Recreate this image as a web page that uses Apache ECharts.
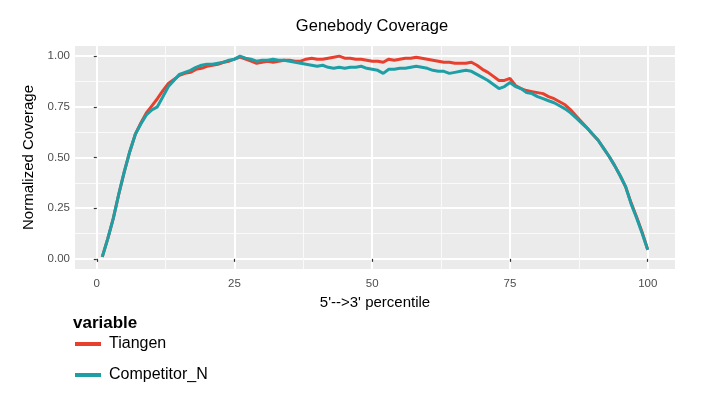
<!DOCTYPE html>
<html>
<head>
<meta charset="utf-8">
<script src="https://cdn.jsdelivr.net/npm/echarts@6/dist/echarts.min.js"></script>
<style>html,body{margin:0;padding:0;background:#fff}#c{width:707px;height:397px}</style>
</head>
<body>
<div id="c"></div>
<script>
var percentiles = [];
for (var i = 1; i <= 100; i++) percentiles.push(i);

var tiangen = [
0.01,0.10,0.20,0.32,0.43,0.53,0.615,0.67,0.72,0.755,
0.79,0.83,0.865,0.885,0.905,0.915,0.92,0.935,0.94,0.95,
0.955,0.96,0.97,0.975,0.985,0.995,0.985,0.975,0.965,0.97,
0.975,0.97,0.975,0.98,0.98,0.975,0.975,0.985,0.99,0.985,
0.985,0.99,0.995,1.0,0.99,0.99,0.985,0.985,0.98,0.975,
0.975,0.97,0.985,0.98,0.985,0.99,0.99,0.995,0.99,0.985,
0.98,0.975,0.97,0.97,0.965,0.965,0.965,0.97,0.955,0.935,
0.92,0.90,0.88,0.88,0.89,0.855,0.84,0.83,0.825,0.82,
0.815,0.80,0.79,0.775,0.76,0.735,0.705,0.675,0.645,0.615,
0.585,0.545,0.505,0.46,0.41,0.355,0.275,0.205,0.13,0.045
];

var competitorN = [
0.01,0.10,0.20,0.32,0.43,0.53,0.615,0.665,0.71,0.735,
0.75,0.80,0.85,0.88,0.91,0.92,0.93,0.945,0.955,0.96,
0.96,0.965,0.97,0.98,0.985,1.00,0.99,0.985,0.975,0.98,
0.98,0.985,0.98,0.98,0.975,0.97,0.965,0.96,0.955,0.95,
0.955,0.945,0.94,0.945,0.94,0.945,0.945,0.95,0.94,0.935,
0.93,0.915,0.935,0.935,0.94,0.94,0.945,0.95,0.945,0.94,
0.93,0.925,0.925,0.915,0.92,0.925,0.93,0.925,0.91,0.895,
0.88,0.86,0.84,0.85,0.87,0.85,0.84,0.82,0.815,0.80,
0.79,0.78,0.77,0.755,0.74,0.72,0.695,0.67,0.645,0.615,
0.585,0.545,0.505,0.46,0.41,0.355,0.27,0.20,0.125,0.045
];

var xMajorTicks = [0, 25, 50, 75, 100];
var xMinorTicks = [12.5, 37.5, 62.5, 87.5];
var yMajorTicks = [0, 0.25, 0.5, 0.75, 1.0];
var yMinorTicks = [0.125, 0.375, 0.625, 0.875];

function pairs(xs, ys) {
  return xs.map(function (x, i) { return [x, ys[i]]; });
}

var font = 'Liberation Sans, Arial, sans-serif';
var chart = echarts.init(document.getElementById('c'));
chart.setOption({
  animation: false,
  textStyle: { fontFamily: font },
  title: [
    { text: 'Genebody Coverage', left: 367, top: 13, textAlign: 'center',
      textStyle: { fontSize: 16.5, fontWeight: 'normal', color: '#000', fontFamily: font } },
    { text: 'variable', left: 68, top: 310,
      textStyle: { fontSize: 17, fontWeight: 'bold', color: '#000', fontFamily: font } }
  ],
  grid: { left: 75, right: 32, top: 46, bottom: 128, show: true,
    backgroundColor: '#EBEBEB', borderWidth: 0 },
  legend: {
    orient: 'vertical', left: 70, top: 331, icon: 'rect',
    itemWidth: 26, itemHeight: 4, itemGap: 15,
    textStyle: { fontSize: 16, color: '#000', fontFamily: font, padding: [0, 0, 0, 3] },
    data: ['Tiangen', 'Competitor_N']
  },
  xAxis: [
    { type: 'value', min: -3.95, max: 104.95,
      name: "5'-->3' percentile", nameLocation: 'middle', nameGap: 19,
      nameTextStyle: { fontSize: 15, color: '#000', fontFamily: font },
      axisLine: { show: false },
      axisTick: { show: true, length: 3, customValues: xMajorTicks, lineStyle: { color: '#333', width: 1.2 } },
      axisLabel: { customValues: xMajorTicks, margin: 9, fontSize: 11.5, color: '#4D4D4D', fontFamily: font },
      splitLine: { show: true, lineStyle: { color: '#FFFFFF', width: 2 } } },
    { type: 'value', min: -3.95, max: 104.95, position: 'bottom',
      axisLine: { show: false },
      axisTick: { show: false, customValues: xMinorTicks },
      axisLabel: { show: false, customValues: xMinorTicks },
      splitLine: { show: true, lineStyle: { color: '#FAFAFA', width: 1 } } }
  ],
  yAxis: [
    { type: 'value', min: -0.05, max: 1.05,
      name: 'Normalized Coverage', nameLocation: 'middle', nameGap: 36,
      nameTextStyle: { fontSize: 15, color: '#000', fontFamily: font },
      axisLine: { show: false },
      axisTick: { show: true, length: 3, customValues: yMajorTicks, lineStyle: { color: '#333', width: 1.2 } },
      axisLabel: { customValues: yMajorTicks, margin: 5, fontSize: 11.5, color: '#4D4D4D', fontFamily: font,
        formatter: function (v) { return v.toFixed(2); } },
      splitLine: { show: true, lineStyle: { color: '#FFFFFF', width: 2 } } },
    { type: 'value', min: -0.05, max: 1.05, position: 'left',
      axisLine: { show: false },
      axisTick: { show: false, customValues: yMinorTicks },
      axisLabel: { show: false, customValues: yMinorTicks },
      splitLine: { show: true, lineStyle: { color: '#FAFAFA', width: 1 } } }
  ],
  series: [
    { name: 'Tiangen', type: 'line', data: pairs(percentiles, tiangen),
      showSymbol: false, symbol: 'none', color: '#E8402F',
      lineStyle: { width: 3, color: '#E8402F' } },
    { name: 'Competitor_N', type: 'line', data: pairs(percentiles, competitorN),
      showSymbol: false, symbol: 'none', color: '#1E9FA5',
      lineStyle: { width: 3, color: '#1E9FA5' } }
  ]
});
</script>
</body>
</html>
